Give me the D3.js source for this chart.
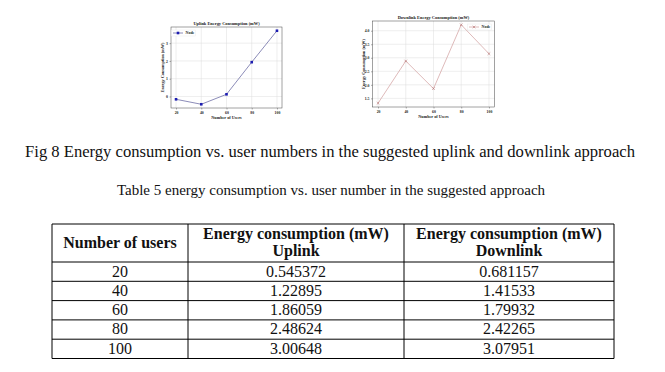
<!DOCTYPE html>
<html>
<head>
<meta charset="utf-8">
<script src="https://cdn.jsdelivr.net/npm/d3@7"></script>
<style>
  body { margin: 0; background: #fff; }
  svg { display: block; }
</style>
</head>
<body>
<div id="page"></div>
<script>
// chart data
var users = [20, 40, 60, 80, 100];
var uplinkChart = [-0.16, -0.44, 0.12, 1.93, 3.7];
var downlinkChart = [1.32, 2.88, 1.86, 4.22, 3.15];
var uplinkTicks = [0, 1, 2, 3];
var downlinkTicks = [1.5, 2.0, 2.5, 3.0, 3.5, 4.0];

// table data
var headers = [["Number of users"], ["Energy consumption (mW)", "Uplink"], ["Energy consumption (mW)", "Downlink"]];
var uplinkTable = ["0.545372", "1.22895", "1.86059", "2.48624", "3.00648"];
var downlinkTable = ["0.681157", "1.41533", "1.79932", "2.42265", "3.07951"];

var W = 665, H = 372;
var serif = "'Liberation Serif', 'Times New Roman', serif";

var svg = d3.select("#page").append("svg")
  .attr("width", W)
  .attr("height", H)
  .style("font-family", serif);

svg.append("rect").attr("width", W).attr("height", H).attr("fill", "#fff");

function smallPlot(opt) {
  var x = d3.scaleLinear().domain([16, 104]).range([opt.left, opt.right]);
  var y = d3.scaleLinear().domain(opt.yDomain).range([opt.bottom, opt.top]);
  var g = svg.append("g");

  // grid
  g.selectAll("line.gx").data(users).enter().append("line")
    .attr("x1", function (d) { return x(d); }).attr("x2", function (d) { return x(d); })
    .attr("y1", opt.top).attr("y2", opt.bottom)
    .attr("stroke", "#dcdcdc").attr("stroke-width", 0.5);
  g.selectAll("line.gy").data(opt.ticks).enter().append("line")
    .attr("y1", function (d) { return y(d); }).attr("y2", function (d) { return y(d); })
    .attr("x1", opt.left).attr("x2", opt.right)
    .attr("stroke", "#dcdcdc").attr("stroke-width", 0.5);

  // axes
  var xa = g.append("g").attr("transform", "translate(0," + opt.bottom + ")")
    .call(d3.axisBottom(x).tickValues(users).tickSize(1.5).tickPadding(1.5));
  var ya = g.append("g").attr("transform", "translate(" + opt.left + ",0)")
    .call(d3.axisLeft(y).tickValues(opt.ticks).tickFormat(opt.fmt).tickSize(1.5).tickPadding(1.5));
  [xa, ya].forEach(function (a) {
    a.select(".domain").remove();
    a.selectAll("line").attr("stroke", "#333").attr("stroke-width", 0.4);
    a.selectAll("text").attr("font-family", serif).attr("font-size", 3.8)
      .attr("font-weight", "bold").attr("fill", "#222");
  });

  // frame
  g.append("rect")
    .attr("x", opt.left).attr("y", opt.top)
    .attr("width", opt.right - opt.left).attr("height", opt.bottom - opt.top)
    .attr("fill", "none").attr("stroke", "#444").attr("stroke-width", 0.5);

  // line + markers
  var line = d3.line()
    .x(function (d, i) { return x(users[i]); })
    .y(function (d) { return y(d); });
  g.append("path").datum(opt.values)
    .attr("d", line).attr("fill", "none")
    .attr("stroke", opt.lineColor).attr("stroke-width", 0.8);

  if (opt.marker === "square") {
    g.selectAll("rect.m").data(opt.values).enter().append("rect")
      .attr("x", function (d, i) { return x(users[i]) - 1.3; })
      .attr("y", function (d) { return y(d) - 1.3; })
      .attr("width", 2.6).attr("height", 2.6)
      .attr("fill", opt.markColor);
  } else {
    g.selectAll("path.m").data(opt.values).enter().append("path")
      .attr("d", function (d, i) {
        var cx = x(users[i]), cy = y(d), r = 1.3;
        return "M" + (cx - r) + "," + (cy - r) + "L" + (cx + r) + "," + (cy + r) +
               "M" + (cx - r) + "," + (cy + r) + "L" + (cx + r) + "," + (cy - r);
      })
      .attr("stroke", opt.markColor).attr("stroke-width", 0.6);
  }

  // titles
  g.append("text")
    .attr("x", (opt.left + opt.right) / 2).attr("y", opt.top - 2)
    .attr("text-anchor", "middle").attr("font-size", 4.4).attr("font-weight", "bold")
    .attr("fill", "#222").text(opt.title);
  g.append("text")
    .attr("x", (opt.left + opt.right) / 2).attr("y", opt.bottom + 10.5)
    .attr("text-anchor", "middle").attr("font-size", 4.2).attr("font-weight", "bold")
    .attr("fill", "#222").text("Number of Users");
  g.append("text")
    .attr("transform", "translate(" + (opt.left - 7.5) + "," + ((opt.top + opt.bottom) / 2) + ") rotate(-90)")
    .attr("text-anchor", "middle").attr("font-size", 4.2).attr("font-weight", "bold")
    .attr("fill", "#222").text("Energy Consumption (mW)");

  // legend
  var lg = g.append("g").attr("transform", "translate(" + opt.legend[0] + "," + opt.legend[1] + ")");
  lg.append("rect").attr("x", -1.5).attr("y", -3).attr("width", 24).attr("height", 6)
    .attr("fill", "#fff").attr("stroke", "#e6e6e6").attr("stroke-width", 0.4);
  lg.append("line").attr("x1", 0).attr("x2", 10).attr("y1", 0).attr("y2", 0)
    .attr("stroke", opt.lineColor).attr("stroke-width", 0.8);
  if (opt.marker === "square") {
    lg.append("rect").attr("x", 3.7).attr("y", -1.3).attr("width", 2.6).attr("height", 2.6)
      .attr("fill", opt.markColor);
  } else {
    lg.append("path").attr("d", "M3.7,-1.3L6.3,1.3M3.7,1.3L6.3,-1.3")
      .attr("stroke", opt.markColor).attr("stroke-width", 0.6);
  }
  lg.append("text").attr("x", 12.5).attr("y", 1.4).attr("font-size", 4)
    .attr("font-weight", "bold").attr("fill", "#222").text("Node");
}

smallPlot({
  left: 171, right: 282, top: 27, bottom: 108,
  yDomain: [-0.65, 3.91], ticks: uplinkTicks, fmt: d3.format("d"),
  values: uplinkChart, lineColor: "#6f6fa6", markColor: "#1c1cb0", marker: "square",
  title: "Uplink Energy Consumption (mW)", legend: [173, 33]
});

smallPlot({
  left: 372.5, right: 494.5, top: 21, bottom: 107,
  yDomain: [1.18, 4.36], ticks: downlinkTicks, fmt: d3.format(".1f"),
  values: downlinkChart, lineColor: "#d5a8a8", markColor: "#b57272", marker: "x",
  title: "Downlink Energy Consumption (mW)", legend: [469, 27]
});

// captions
svg.append("text").attr("x", 330).attr("y", 157).attr("text-anchor", "middle")
  .attr("font-size", 16.6).attr("fill", "#111")
  .text("Fig 8 Energy consumption vs. user numbers in the suggested uplink and downlink approach");
svg.append("text").attr("x", 331).attr("y", 195).attr("text-anchor", "middle")
  .attr("font-size", 15).attr("fill", "#111")
  .text("Table 5 energy consumption vs. user number in the suggested approach");

// table
var colEdges = [52, 188, 404, 614];
var headTop = 224, headBottom = 262, rowH = 19.3;
var rowY = d3.scaleLinear().domain([0, users.length]).range([headBottom, headBottom + rowH * users.length]);
var tableBottom = rowY(users.length);

var tg = svg.append("g");
tg.selectAll("line.col").data(colEdges).enter().append("line")
  .attr("x1", function (d) { return d; }).attr("x2", function (d) { return d; })
  .attr("y1", headTop).attr("y2", tableBottom)
  .attr("stroke", "#000").attr("stroke-width", 1);
var rowLines = [headTop].concat(d3.range(users.length + 1).map(function (i) { return rowY(i); }));
tg.selectAll("line.row").data(rowLines).enter().append("line")
  .attr("y1", function (d) { return d; }).attr("y2", function (d) { return d; })
  .attr("x1", colEdges[0]).attr("x2", colEdges[3])
  .attr("stroke", "#000").attr("stroke-width", 1);

function colMid(i) { return (colEdges[i] + colEdges[i + 1]) / 2; }

headers.forEach(function (h, i) {
  h.forEach(function (t, j) {
    var yy = h.length === 1 ? 248 : 239 + j * 17;
    tg.append("text").attr("x", colMid(i)).attr("y", yy)
      .attr("text-anchor", "middle").attr("font-size", 16).attr("font-weight", "bold")
      .attr("fill", "#111").text(t);
  });
});

var cols = [users.map(String), uplinkTable, downlinkTable];
cols.forEach(function (vals, i) {
  tg.selectAll(null).data(vals).enter().append("text")
    .attr("x", colMid(i))
    .attr("y", function (d, r) { return rowY(r) + 14.5; })
    .attr("text-anchor", "middle").attr("font-size", 16).attr("fill", "#111")
    .text(function (d) { return d; });
});
</script>
</body>
</html>
